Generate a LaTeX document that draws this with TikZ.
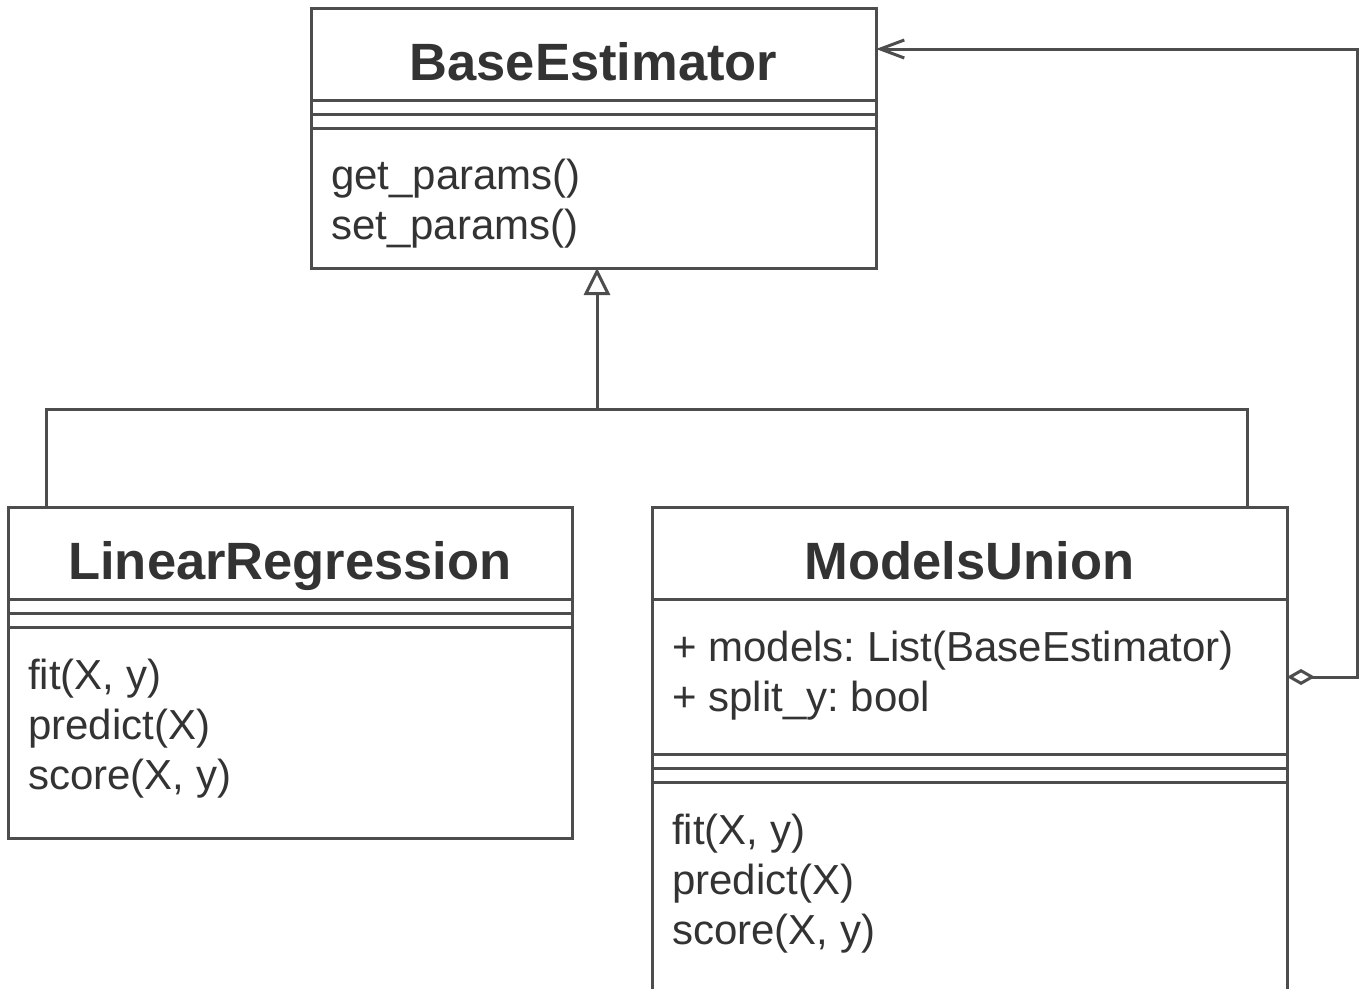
\documentclass[tikz,border=0pt]{standalone}
\usepackage{fontspec}
\setmainfont{Liberation Sans}
\usetikzlibrary{arrows.meta}
\definecolor{linec}{HTML}{4D4D4D}
\definecolor{textc}{HTML}{333333}
\frenchspacing
\begin{document}
\begin{tikzpicture}[x=1pt,y=-1pt,
  box/.style={draw=linec, line width=3pt, rectangle, inner sep=0pt, outer sep=0pt, anchor=north west},
  sep/.style={draw=linec, line width=3pt},
  title/.style={text=textc, font=\fontsize{52.5}{60}\selectfont\bfseries, anchor=base, inner sep=0pt},
  member/.style={text=textc, font=\fontsize{42}{50}\selectfont, anchor=base west, inner sep=0pt},
  conn/.style={draw=linec, line width=3pt},
  inh/.style={conn, -{Triangle[open, length=27pt, width=26pt, line width=3pt]}},
  agg/.style={conn, {Diamond[open, length=28pt, width=16pt, line width=3pt]}-{Straight Barb[length=24pt, width=18pt, line width=3pt]}}
]
\useasboundingbox (0,0) rectangle (1359,988);

% BaseEstimator
\node[box, minimum width=565pt, minimum height=260pt] (be) at (311,8) {};
\node[title] (betitle) at (593.5,80) {BaseEstimator};
\draw[sep] (311,100) -- (876,100);
\draw[sep] (311,114) -- (876,114);
\draw[sep] (311,128) -- (876,128);
\node[member] (bem1) at (331,189) {get\_params()};
\node[member] (bem2) at (331,239) {set\_params()};

% LinearRegression
\node[box, minimum width=564pt, minimum height=331pt] (lr) at (8,507) {};
\node[title] (lrtitle) at (290,579) {LinearRegression};
\draw[sep] (8,599) -- (572,599);
\draw[sep] (8,613) -- (572,613);
\draw[sep] (8,627) -- (572,627);
\node[member] (lrm1) at (28,689) {fit(X, y)};
\node[member] (lrm2) at (28,739) {predict(X)};
\node[member] (lrm3) at (28,789) {score(X, y)};

% ModelsUnion (cut off at the bottom)
\node[box, minimum width=635pt, minimum height=500pt] (mu) at (652,507) {};
\node[title] (mutitle) at (969.5,579) {ModelsUnion};
\draw[sep] (652,599) -- (1287,599);
\node[member] (mua1) at (672,661) {+ models: List(BaseEstimator)};
\node[member] (mua2) at (672,711) {+ split\_y: bool};
\draw[sep] (652,754) -- (1287,754);
\draw[sep] (652,768) -- (1287,768);
\draw[sep] (652,782) -- (1287,782);
\node[member] (mum1) at (672,844) {fit(X, y)};
\node[member] (mum2) at (672,894) {predict(X)};
\node[member] (mum3) at (672,944) {score(X, y)};

% inheritance
\coordinate (j) at (597,409);
\draw[conn] ([xshift=38pt]lr.north west) |- (j);
\draw[conn] ([xshift=595pt]mu.north west) |- (j);
\draw[inh] (j) -- (j |- be.south);

% aggregation
\coordinate (c1) at (1357,677);
\coordinate (c2) at (1357,49);
\draw[agg] ([yshift=-170pt]mu.north east) -- (c1) -- (c2) -- ([yshift=-41pt]be.north east);
\end{tikzpicture}
\end{document}
